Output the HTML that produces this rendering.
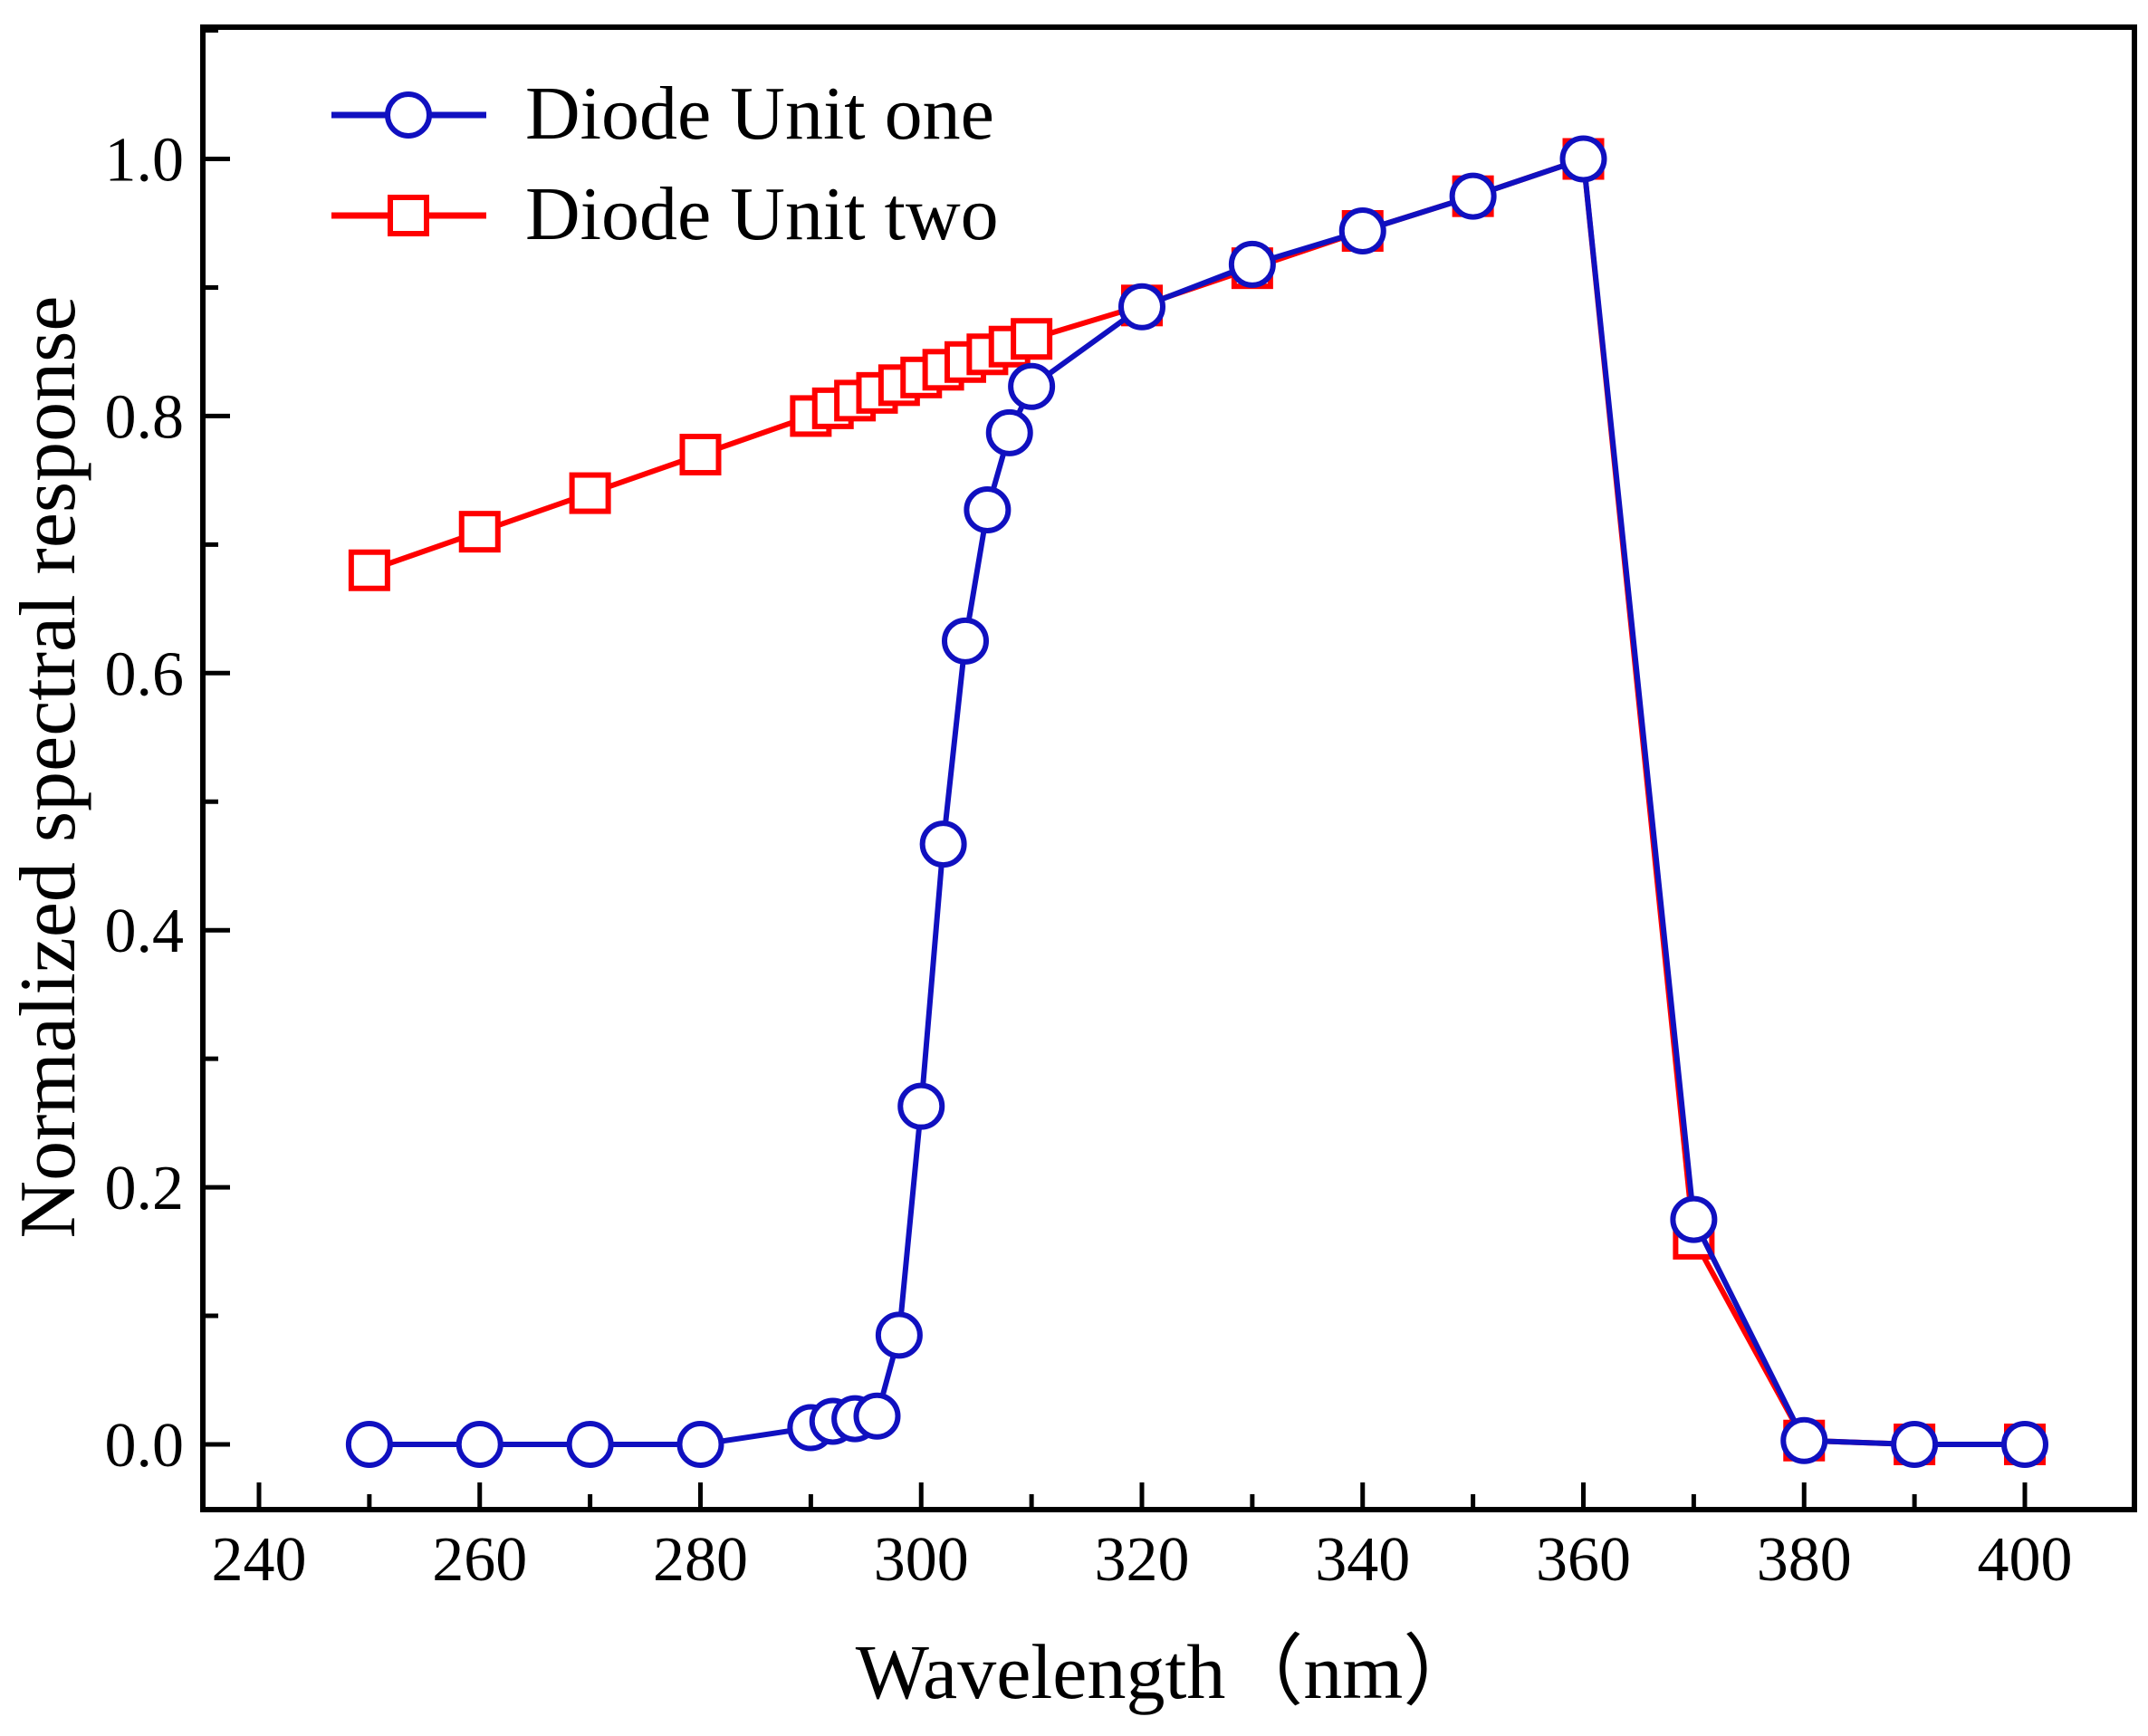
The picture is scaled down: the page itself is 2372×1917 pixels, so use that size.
<!DOCTYPE html>
<html><head><meta charset="utf-8"><style>body{margin:0;background:#fff}svg{display:block}</style></head><body>
<svg xmlns="http://www.w3.org/2000/svg" width="2372" height="1917" viewBox="0 0 2372 1917" font-family="Liberation Serif, serif">
<rect width="2372" height="1917" fill="#fff"/>
<g id="plot"></g>
<rect x="224" y="30" width="2133" height="1637" fill="none" stroke="#000" stroke-width="6"/>
<g id="ticks" stroke="#000" stroke-width="5"></g>
<g id="labels" font-size="70" fill="#000"></g>
<text x="1290" y="1875" font-size="86" text-anchor="middle">Wavelength（nm）</text>
<text transform="translate(62,847) rotate(-90)" font-size="88" text-anchor="middle" dominant-baseline="middle">Normalized spectral response</text>
<line x1="366" y1="127" x2="537" y2="127" stroke="#1010c0" stroke-width="7"/>
<circle cx="451" cy="127" r="23" fill="#fff" stroke="#1010c0" stroke-width="6"/>
<text x="580" y="153" font-size="84">Diode Unit one</text>
<line x1="366" y1="238" x2="537" y2="238" stroke="#f00" stroke-width="7"/>
<rect x="431" y="218" width="40" height="40" fill="#fff" stroke="#f00" stroke-width="6"/>
<text x="580" y="264" font-size="84">Diode Unit two</text>
<script>
const X=v=>286+(v-240)*12.1875, Y=v=>1595-v*1419.5;
const wl=[250,260,270,280,290,292,294,296,298,300,302,304,306,308,310,320,330,340,350,360,370,380,390,400];
const b=[0,0,0,0,0.013,0.018,0.02,0.022,0.085,0.263,0.467,0.625,0.727,0.787,0.823,0.885,0.918,0.944,0.971,1.0,0.175,0.003,0,0];
const r=[0.68,0.71,0.74,0.77,0.8,0.806,0.812,0.818,0.824,0.83,0.836,0.842,0.848,0.854,0.86,0.886,0.915,0.944,0.971,1.0,0.16,0.003,0,0];
const ns="http://www.w3.org/2000/svg";
function el(p,t,a,txt){const e=document.createElementNS(ns,t);for(const k in a)e.setAttribute(k,a[k]);if(txt!=null)e.textContent=txt;p.appendChild(e);return e;}
const P=document.getElementById('plot');
el(P,'polyline',{points:wl.map((w,i)=>X(w)+','+Y(r[i])).join(' '),fill:'none',stroke:'#f00','stroke-width':6});
wl.forEach((w,i)=>el(P,'rect',{x:X(w)-20,y:Y(r[i])-20,width:40,height:40,fill:'#fff',stroke:'#f00','stroke-width':6}));
el(P,'polyline',{points:wl.map((w,i)=>X(w)+','+Y(b[i])).join(' '),fill:'none',stroke:'#1010c0','stroke-width':6});
wl.forEach((w,i)=>el(P,'circle',{cx:X(w),cy:Y(b[i]),r:23,fill:'#fff',stroke:'#1010c0','stroke-width':6}));
const T=document.getElementById('ticks'),L=document.getElementById('labels');
for(let w=240;w<=400;w+=10){const maj=w%20==0;el(T,'line',{x1:X(w),x2:X(w),y1:1667,y2:1667-(maj?30:17)});
 if(maj)el(L,'text',{x:X(w),y:1745,'text-anchor':'middle'},w);}
for(let k=0;k<=11;k++){const v=k/10,maj=k%2==0;el(T,'line',{x1:224,x2:224+(maj?30:17),y1:Y(v),y2:Y(v)});
 if(maj&&k<=10)el(L,'text',{x:203,y:Y(v)+24,'text-anchor':'end'},v.toFixed(1));}
</script>
</svg>
</body></html>
